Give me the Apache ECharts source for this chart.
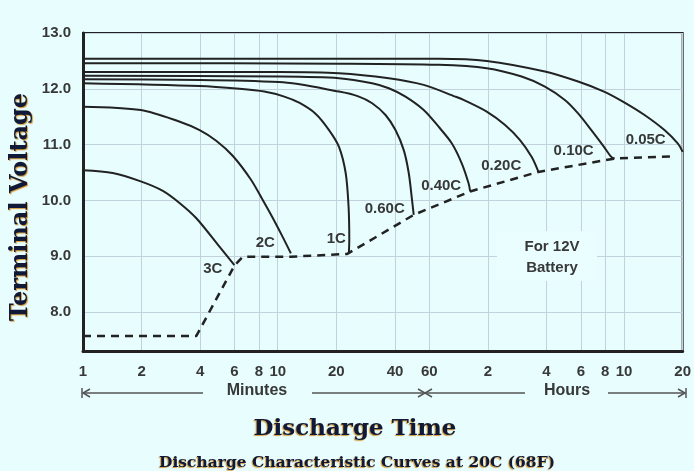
<!DOCTYPE html>
<html>
<head>
<meta charset="utf-8">
<script src="https://cdn.jsdelivr.net/npm/echarts@6/dist/echarts.min.js"></script>
<style>
html, body { margin: 0; padding: 0; background: #e7fdfe; }
#main { width: 694px; height: 471px; }
</style>
</head>
<body>
<div id="main"></div>
<script>
// x = discharge time in minutes (log axis), y = terminal voltage
var tickValues = [1, 2, 4, 6, 8, 10, 20, 40, 60, 120, 240, 360, 480, 600, 1200];
var tickLabels = ['1', '2', '4', '6', '8', '10', '20', '40', '60', '2', '4', '6', '8', '10', '20'];
var voltTicks = [8, 9, 10, 11, 12, 13];

var rates = ['3C', '2C', '1C', '0.60C', '0.40C', '0.20C', '0.10C', '0.05C'];
var curve3C = [[1, 10.54], [1.42, 10.49], [1.98, 10.34], [2.57, 10.17], [3.14, 9.95], [3.82, 9.68], [5.02, 9.17], [5.99, 8.84]];
var curve2C = [[1, 11.68], [1.98, 11.62], [3.14, 11.41], [3.97, 11.26], [4.83, 11.07], [5.87, 10.8], [7.29, 10.37], [8.36, 10.01], [9.34, 9.71], [10.58, 9.35], [11.68, 9.05]];
var curve1C = [[1, 12.1], [3.97, 12.05], [6.36, 12.0], [8.53, 11.95], [10.8, 11.86], [12.88, 11.75], [15.68, 11.55], [18.34, 11.26], [20.63, 10.96], [22.33, 10.49], [23.1, 9.89], [23.3, 9.3], [23.2, 9.07]];
var curve060C = [[1, 12.17], [10.18, 12.12], [20.63, 11.95], [26.12, 11.86], [30.54, 11.74], [35.77, 11.53], [40.23, 11.26], [44.37, 10.9], [47.06, 10.49], [48.92, 10.01], [49.91, 9.74]];
var curve040C = [[1, 12.235], [10.18, 12.22], [20.63, 12.19], [30.54, 12.1], [37.19, 12.01], [45.27, 11.86], [56.17, 11.62], [66.99, 11.32], [78.39, 11.02], [88.16, 10.66], [95.39, 10.31], [97.32, 10.16]];
var curve020C = [[1, 12.3], [10.18, 12.3], [20.63, 12.28], [37.19, 12.19], [56.17, 12.07], [81.58, 11.86], [89.95, 11.8], [118.3, 11.59], [147, 11.35], [175.4, 11.08], [201.1, 10.78], [217.6, 10.52]];
var curve010C = [[1, 12.46], [20.63, 12.45], [66.99, 12.43], [118.3, 12.37], [178.7, 12.22], [235.4, 12.04], [298, 11.8], [348.5, 11.56], [407.6, 11.26], [473.4, 10.96], [515.9, 10.78], [537, 10.75]];
var curve005C = [[1, 12.54], [66.99, 12.54], [118.3, 12.5], [235.4, 12.31], [348.5, 12.13], [473.4, 11.95], [592.1, 11.77], [764.5, 11.53], [967.6, 11.26], [1131.8, 11.02], [1200, 10.87]];
var endVoltage = [[1, 7.57], [3.82, 7.57], [5.99, 8.83], [6.61, 8.99], [11.68, 8.99], [22.75, 9.04], [49.91, 9.74], [97.32, 10.16], [217.6, 10.51], [537, 10.75], [1088.6, 10.79]];

var curves = [curve3C, curve2C, curve1C, curve060C, curve040C, curve020C, curve010C, curve005C];
// label nudges relative to each curve's end point (px)
var labelOffsets = [[-7, 4], [-11, -11], [2, -13], [-4, -6], [-4, -6], [-12, -5], [-16, -8], [-12, -12]];

var ink = '#222';
var textGrey = '#383838';
var sansFont = '"Liberation Sans", Arial, sans-serif';
var serifFont = '"DejaVu Serif", serif';

var series = curves.map(function (pts, i) {
  var last = pts[pts.length - 1];
  return {
    name: rates[i],
    type: 'line',
    data: pts,
    showSymbol: false,
    smooth: 0.3,
    lineStyle: { color: ink, width: 2 },
    z: 3,
    markPoint: {
      symbol: 'circle',
      symbolSize: 0,
      silent: true,
      label: {
        show: true,
        position: 'left',
        distance: 5,
        offset: labelOffsets[i],
        formatter: rates[i],
        color: textGrey,
        fontFamily: sansFont,
        fontSize: 15,
        fontWeight: 'bold'
      },
      data: [{ coord: last }]
    }
  };
});

series.push({
  name: 'end voltage',
  type: 'line',
  data: endVoltage,
  showSymbol: false,
  lineStyle: { color: ink, width: 2.5, type: [8, 6] },
  z: 3
});

var titleShadow = {
  textShadowColor: 'rgba(210,130,0,0.8)',
  textShadowBlur: 1,
  textShadowOffsetX: -1,
  textShadowOffsetY: 1
};

var chart = echarts.init(document.getElementById('main'));
chart.setOption({
  backgroundColor: '#e7fdfe',
  animation: false,
  title: [{
    text: 'Discharge Time',
    left: 350,
    top: 413,
    textAlign: 'center',
    textStyle: Object.assign({ fontFamily: serifFont, fontWeight: 'bold', fontSize: 23, color: '#101a38' }, titleShadow)
  }, {
    text: 'Discharge Characteristic Curves at 20C (68F)',
    left: 352,
    top: 450,
    textAlign: 'center',
    textStyle: Object.assign({ fontFamily: serifFont, fontWeight: 'bold', fontSize: 15.5, color: '#101a38' }, titleShadow)
  }],
  grid: { left: 83, right: 8, top: 33, bottom: 120, show: true, borderColor: ink, borderWidth: 2, backgroundColor: '#e7fdfe' },
  xAxis: {
    type: 'log',
    logBase: 10,
    min: 1,
    max: 1200,
    axisLine: { show: true, lineStyle: { color: ink, width: 3 } },
    axisTick: { show: false, customValues: tickValues },
    axisLabel: {
      customValues: tickValues,
      margin: 13,
      color: textGrey,
      fontFamily: sansFont,
      fontSize: 15,
      fontWeight: 'bold',
      formatter: function (v) {
        var k = tickValues.indexOf(Math.round(v));
        return k >= 0 ? tickLabels[k] : '';
      }
    },
    splitLine: { show: true, lineStyle: { color: '#c2d2dc', width: 1 } }
  },
  yAxis: {
    type: 'value',
    min: 7.3,
    max: 13,
    axisLine: { show: true, lineStyle: { color: ink, width: 3 } },
    axisTick: { show: false, customValues: voltTicks },
    axisLabel: {
      customValues: voltTicks,
      margin: 12,
      color: textGrey,
      fontFamily: sansFont,
      fontSize: 15,
      fontWeight: 'bold',
      formatter: function (v) { return v.toFixed(1); }
    },
    splitLine: { show: true, lineStyle: { color: '#c2d2dc', width: 1 } }
  },
  graphic: [
    {
      type: 'text', x: 21, y: 207, rotation: Math.PI / 2,
      style: {
        text: 'Terminal Voltage', align: 'center', verticalAlign: 'middle',
        fill: '#101a38', font: 'bold 24px ' + serifFont,
        textShadowColor: 'rgba(210,130,0,0.8)', textShadowBlur: 1, textShadowOffsetX: 1, textShadowOffsetY: 1
      }
    },
    { type: 'rect', shape: { x: 497, y: 231, width: 100, height: 50 }, style: { fill: '#eafeff' }, z: 1 },
    { type: 'text', x: 552, y: 247, style: { text: 'For 12V', align: 'center', verticalAlign: 'middle', fill: textGrey, font: 'bold 15px ' + sansFont }, z: 5 },
    { type: 'text', x: 552, y: 268, style: { text: 'Battery', align: 'center', verticalAlign: 'middle', fill: textGrey, font: 'bold 15px ' + sansFont }, z: 5 },
    // Minutes / Hours span arrows under the x axis
    { type: 'text', x: 257, y: 391, style: { text: 'Minutes', align: 'center', verticalAlign: 'middle', fill: textGrey, font: 'bold 16px ' + sansFont } },
    { type: 'text', x: 567, y: 391, style: { text: 'Hours', align: 'center', verticalAlign: 'middle', fill: textGrey, font: 'bold 16px ' + sansFont } },
    { type: 'line', shape: { x1: 83, y1: 393, x2: 203, y2: 393 }, style: { stroke: '#555', lineWidth: 1.5 } },
    { type: 'line', shape: { x1: 312, y1: 393, x2: 525, y2: 393 }, style: { stroke: '#555', lineWidth: 1.5 } },
    { type: 'line', shape: { x1: 608, y1: 393, x2: 685, y2: 393 }, style: { stroke: '#555', lineWidth: 1.5 } },
    { type: 'line', shape: { x1: 82, y1: 388, x2: 82, y2: 398 }, style: { stroke: '#555', lineWidth: 1.5 } },
    { type: 'polyline', shape: { points: [[90, 389], [83, 393], [90, 397]] }, style: { stroke: '#555', lineWidth: 1.5, fill: null } },
    { type: 'polyline', shape: { points: [[418, 389], [425, 393], [418, 397]] }, style: { stroke: '#555', lineWidth: 1.5, fill: null } },
    { type: 'polyline', shape: { points: [[432, 389], [425, 393], [432, 397]] }, style: { stroke: '#555', lineWidth: 1.5, fill: null } },
    { type: 'line', shape: { x1: 686, y1: 388, x2: 686, y2: 398 }, style: { stroke: '#555', lineWidth: 1.5 } },
    { type: 'polyline', shape: { points: [[678, 389], [685, 393], [678, 397]] }, style: { stroke: '#555', lineWidth: 1.5, fill: null } }
  ],
  series: series
});
</script>
</body>
</html>
